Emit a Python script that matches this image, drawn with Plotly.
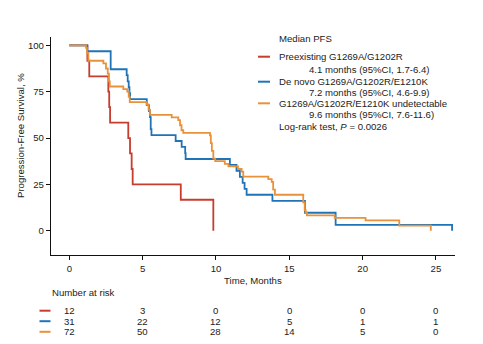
import plotly.graph_objects as go

# ---- data ----
red_t = [0, 1.23, 1.36, 2.66, 2.72, 2.78, 4.02, 4.14, 4.25, 4.32, 7.6, 9.82]
red_s = [100, 91.7, 83.3, 75.0, 66.7, 58.3, 50.0, 41.7, 33.3, 25.0, 16.7, 0]

blue_t = [0, 1.23, 2.82, 3.91, 3.98, 4.05, 4.1, 4.14, 5.28, 5.43, 5.5, 5.55, 5.6,
          7.25, 7.66, 7.9, 7.93, 10.95, 11.4, 11.63, 11.82, 11.95, 12.09, 13.85,
          16.07, 18.16, 26.1]
blue_s = [100, 96.8, 87.1, 83.9, 80.6, 77.4, 74.2, 71.0, 67.7, 64.5, 61.3, 54.8, 51.6,
          48.4, 45.2, 41.9, 38.7, 35.5, 32.3, 29.0, 25.8, 22.6, 19.4, 16.1,
          9.7, 3.2, 0]

orange_t = [0, 1.14, 1.2, 1.3, 2.32, 2.5, 2.62, 2.7, 2.76, 3.68, 3.95, 4.05, 4.12,
            5.27, 5.4, 5.5, 6.98, 7.43, 7.55, 7.65, 7.77, 9.59, 9.65, 9.72, 9.82,
            9.95, 10.6, 10.85, 11.5, 11.75, 11.86, 13.57, 13.8, 13.9, 14.02,
            15.95, 16.05, 16.12, 16.2, 18.1, 20.2, 22.5, 24.65]
orange_s = [100, 98.6, 95.8, 91.7, 90.3, 87.5, 84.7, 80.6, 77.8, 76.4, 75.0, 72.2, 69.4,
            68.1, 65.3, 62.5, 61.1, 59.7, 56.9, 54.2, 52.8, 51.4, 47.2, 43.1, 38.9,
            37.5, 36.1, 34.7, 33.3, 31.9, 29.2, 27.8, 26.4, 22.2, 19.4,
            15.3, 11.1, 9.7, 8.3, 6.9, 5.6, 2.8, 0]

group_names = ["Preexisting G1269A/G1202R",
               "De novo G1269A/G1202R/E1210K",
               "G1269A/G1202R/E1210K undetectable"]
median_text = ["4.1 months (95%CI, 1.7-6.4)",
               "7.2 months (95%CI, 4.6-9.9)",
               "9.6 months (95%CI, 7.6-11.6)"]
colors = ["#c63d2f", "#1f74b8", "#e8923a"]

risk_times = [0, 5, 10, 15, 20, 25]
risk_red = [12, 3, 0, 0, 0, 0]
risk_blue = [31, 22, 12, 5, 1, 1]
risk_orange = [72, 50, 28, 14, 5, 0]

x_ticks = [0, 5, 10, 15, 20, 25]
y_ticks = [0, 25, 50, 75, 100]

FONT = "Liberation Sans, Arial, sans-serif"
TXT = "#222222"
FS = 9.6

fig = go.Figure()
for t, s, c, n in [(red_t, red_s, colors[0], group_names[0]),
                   (blue_t, blue_s, colors[1], group_names[1]),
                   (orange_t, orange_s, colors[2], group_names[2])]:
    fig.add_trace(go.Scatter(x=t, y=s, mode="lines", line=dict(color=c, width=1.8, shape="hv"),
                             name=n, showlegend=False, hoverinfo="skip"))

W, H = 483, 344
L, R, T, B = 51, 28, 37, 89
pw, ph = W - L - R, H - T - B

def px(xp):
    return (xp - L) / pw

def py(yp):
    return (H - B - yp) / ph

ann = []
shapes = []

# Legend block
ann.append(dict(text="Median PFS", x=px(277), y=py(38.5), xref="paper", yref="paper",
                xanchor="left", yanchor="middle", showarrow=False))
rows = [(56.7, 69.3), (81.7, 92.7), (103.3, 115.0)]
for i, (y1, y2) in enumerate(rows):
    shapes.append(dict(type="line", xref="paper", yref="paper", x0=px(258), x1=px(270),
                       y0=py(y1), y1=py(y1), line=dict(color=colors[i], width=2)))
    ann.append(dict(text=group_names[i], x=px(277), y=py(y1), xref="paper", yref="paper",
                    xanchor="left", yanchor="middle", showarrow=False))
    ann.append(dict(text=median_text[i], x=px(306.7), y=py(y2), xref="paper", yref="paper",
                    xanchor="left", yanchor="middle", showarrow=False))
ann.append(dict(text="Log-rank test, <i>P</i> = 0.0026", x=px(277), y=py(126.7),
                xref="paper", yref="paper", xanchor="left", yanchor="middle", showarrow=False))

# axis titles
ann.append(dict(text="Time, Months", x=0.5, y=py(280.5), xref="paper", yref="paper",
                xanchor="center", yanchor="middle", showarrow=False))
ann.append(dict(text="Progression-Free Survival, %", x=px(20), y=py(136), xref="paper",
                yref="paper", xanchor="center", yanchor="middle", textangle=-90, showarrow=False))

# Number at risk table
ann.append(dict(text="Number at risk", x=px(50), y=py(292), xref="paper", yref="paper",
                xanchor="left", yanchor="middle", showarrow=False))
risk_rows = [(risk_red, 310.7), (risk_blue, 321.2), (risk_orange, 331.8)]
for i, (vals, yy) in enumerate(risk_rows):
    shapes.append(dict(type="line", xref="paper", yref="paper", x0=px(39.5), x1=px(50.5),
                       y0=py(yy), y1=py(yy), line=dict(color=colors[i], width=2)))
    for tx, v in zip(risk_times, vals):
        ann.append(dict(text=str(v), x=tx, y=py(yy), xref="x", yref="paper",
                        xanchor="center", yanchor="middle", showarrow=False))

fig.update_layout(
    width=W, height=H,
    margin=dict(l=L, r=R, t=T, b=B, pad=0),
    paper_bgcolor="white", plot_bgcolor="white",
    font=dict(family=FONT, size=FS, color=TXT),
    annotations=ann, shapes=shapes, showlegend=False,
)
fig.update_xaxes(range=[-1.25, 26.3], tickvals=x_ticks, ticks="outside", ticklen=4,
                 tickcolor="#111", tickwidth=1, showline=True, linecolor="#111", linewidth=1.3,
                 showgrid=False, zeroline=False, tickfont=dict(size=FS, color=TXT))
fig.update_yaxes(range=[-13.1, 104.5], tickvals=y_ticks, ticks="outside", ticklen=4,
                 tickcolor="#111", tickwidth=1, showline=True, linecolor="#111", linewidth=1.3,
                 showgrid=False, zeroline=False, tickfont=dict(size=FS, color=TXT))

fig.write_html("out.html")
